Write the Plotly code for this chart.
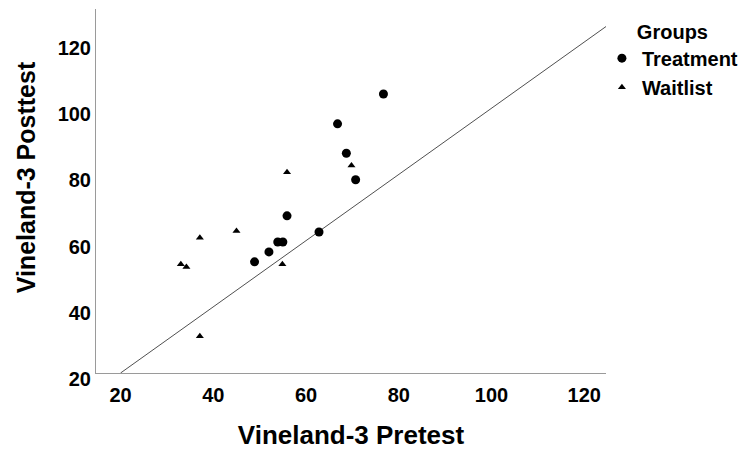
import plotly.graph_objects as go

# Data
treat_pre = [76.7, 66.8, 68.7, 70.7, 55.9, 62.8, 53.9, 55.0, 52.0, 48.9]
treat_post = [104.3, 95.3, 86.4, 78.4, 67.5, 62.6, 59.6, 59.6, 56.6, 53.6]
wait_pre = [55.9, 69.8, 45.0, 37.1, 33.0, 34.2, 54.9, 37.1]
wait_post = [80.7, 82.7, 62.9, 60.9, 52.9, 52.0, 52.9, 31.1]

x_range = [14.7, 124.7]
y_range = [20, 130]
tick_vals = [20, 40, 60, 80, 100, 120]
ref_start = 20  # reference line y = x starts here

FONT = "Liberation Sans, Arial, sans-serif"

fig = go.Figure()

fig.add_trace(go.Scatter(
    x=[ref_start, x_range[1]], y=[ref_start, x_range[1]],
    mode="lines", line=dict(color="#505050", width=1),
    showlegend=False, hoverinfo="skip"))

fig.add_trace(go.Scatter(
    x=treat_pre, y=treat_post, mode="markers", name="Treatment",
    marker=dict(symbol="circle", size=9, color="black", line=dict(width=0))))

fig.add_trace(go.Scatter(
    x=wait_pre, y=wait_post, mode="markers", name="Waitlist",
    marker=dict(symbol="triangle-up", size=7, color="black", line=dict(width=0))))

fig.update_layout(
    width=742, height=450,
    margin=dict(l=96, r=136, t=9, b=77, autoexpand=False),
    paper_bgcolor="white", plot_bgcolor="white",
    font=dict(family=FONT, color="black"),
    legend=dict(
        title=dict(text="Groups", side="top center",
                   font=dict(family=FONT, size=20, weight="bold")),
        font=dict(family=FONT, size=20, weight="bold"),
        x=0.992, xanchor="left", y=0.99, yanchor="top",
        bgcolor="rgba(0,0,0,0)", borderwidth=0,
        tracegroupgap=0, itemsizing="trace",
    ),
    xaxis=dict(
        range=x_range, tickvals=tick_vals, showgrid=False, zeroline=False,
        showline=True, linecolor="#9a9a9a", linewidth=1, ticks="",
        tickfont=dict(family=FONT, size=20, weight="bold"),
        ticklabelstandoff=4,
        title=dict(text="Vineland-3 Pretest", standoff=22,
                   font=dict(family=FONT, size=26, weight="bold")),
    ),
    yaxis=dict(
        range=y_range, tickvals=tick_vals, showgrid=False, zeroline=False,
        showline=True, linecolor="#9a9a9a", linewidth=1, ticks="",
        tickfont=dict(family=FONT, size=20, weight="bold"),
        ticklabelshift=6,
    ),
    annotations=[dict(
        text="Vineland-3 Posttest", textangle=-90,
        xref="paper", yref="paper", x=-0.137, y=0.538,
        xanchor="center", yanchor="middle", showarrow=False,
        font=dict(family=FONT, size=25, weight="bold"))],
)

fig.write_html("out.html")
